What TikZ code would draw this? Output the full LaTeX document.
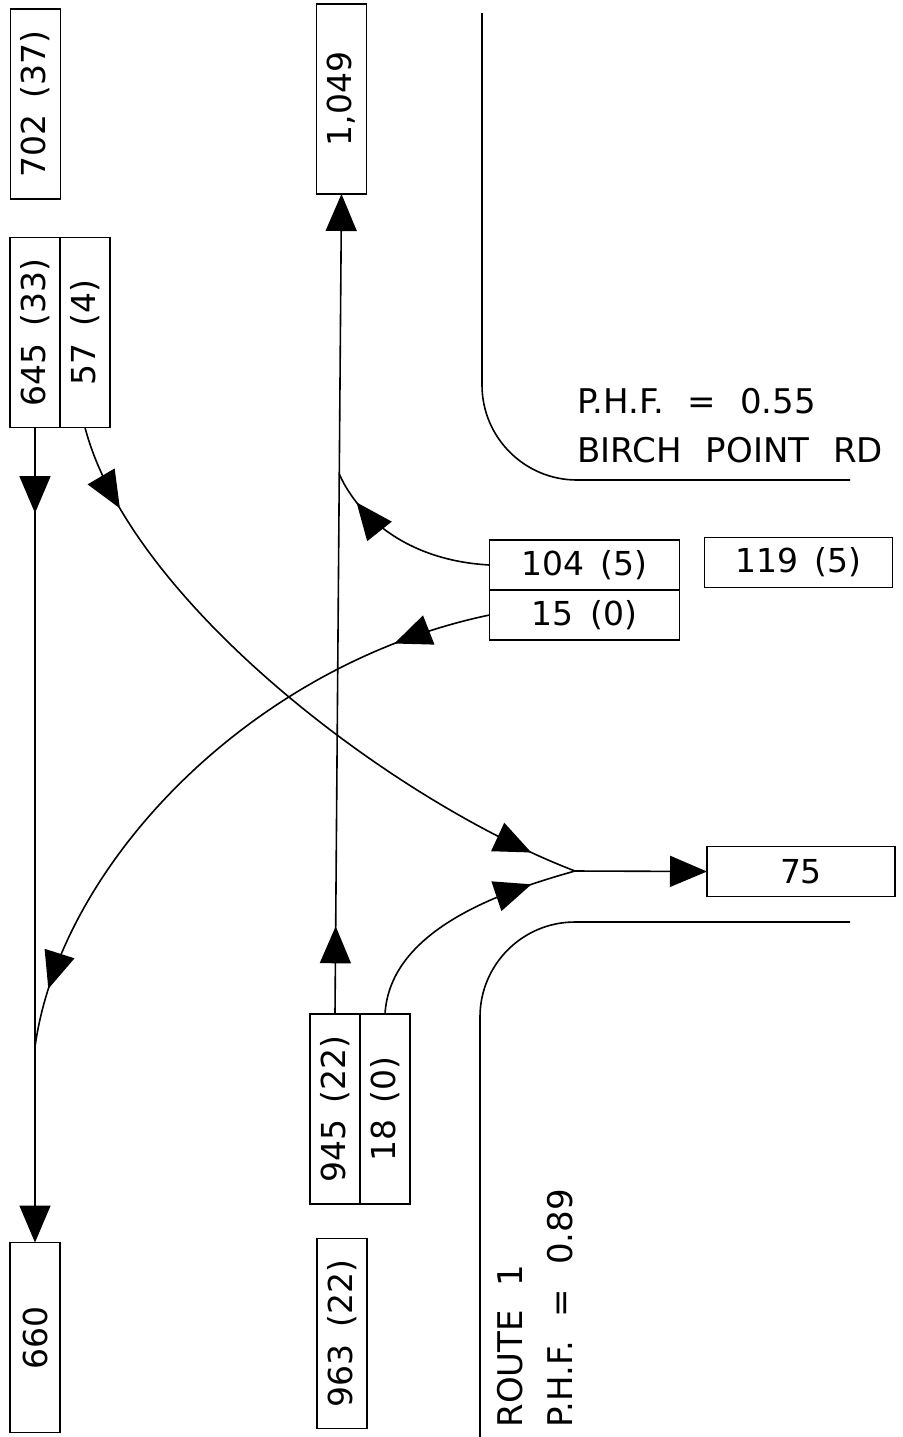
\documentclass[tikz,border=0pt]{standalone}
\usepackage{fontspec}
\setmainfont{DejaVu Sans}
\usepackage{graphicx}
\usetikzlibrary{arrows.meta,positioning,calc,decorations.markings}
\newcommand{\vtext}[1]{\rotatebox{90}{#1}}
\newcommand{\boxfont}{\fontsize{16.5}{20}\selectfont\spaceskip 0.5em plus 0pt\relax}
\newcommand{\roadfont}{\fontsize{17}{20}\selectfont\spaceskip 0.7em plus 0pt\relax}
\tikzset{
  flowtip/.tip={Triangle[length=18.5pt,width=15.5pt]},
  vbox/.style={draw,line width=0.8pt,minimum width=25pt,minimum height=95pt,
    inner sep=0pt,outer sep=0pt},
  hbox/.style={draw,line width=0.8pt,minimum width=95pt,minimum height=25pt,
    inner sep=0pt,outer sep=0pt},
  flow/.style={line width=0.8pt},
  arrowat/.style={postaction={decorate,decoration={markings,
    mark=at position #1 with {\arrow{flowtip}}}}},
  roadedge/.style={line width=0.8pt},
  roadlabel/.style={inner sep=0pt,font=\roadfont}
}

\begin{document}
\begin{tikzpicture}[x=0.5pt,y=-0.5pt,font=\boxfont]
  \useasboundingbox (0,0) rectangle (903,1437);
  % west leg
  \node[vbox] (n702) at (35.5,104) {\vtext{702 (37)}};
  \node[vbox] (n645) at (35,332.5) {\vtext{645 (33)}};
  \node[vbox,right=0pt of n645] (n57) {\vtext{57 (4)}};
  \node[vbox] (n660) at (35,1337.5) {\vtext{660}};
  % route 1 north and south
  \node[vbox] (n1049) at (341.5,99) {\vtext{1,049}};
  \node[vbox] (n945) at (335,1109) {\vtext{945 (22)}};
  \node[vbox,right=0pt of n945] (n18) {\vtext{18 (0)}};
  \node[vbox] (n963) at (342,1333.5) {\vtext{963 (22)}};
  % east leg
  \node[hbox] (n104) at (584.5,565) {104 (5)};
  \node[hbox,below=0pt of n104] (n15) {15 (0)};
  \node[hbox,minimum width=94pt] (n119) at (798.5,562.5) {119 (5)};
  \node[hbox,minimum width=94pt] (n75) at (801,871.5) {75};

  \coordinate (j1) at ($(n945.north)!0.6585!(n1049.south)$);
  \coordinate (j2) at ($(n645.south)!0.76!(n660.north)$);
  \coordinate (merge) at (575,871);

  \draw[flow,arrowat=0.105,-{flowtip}] (n645.south) -- (n660.north);
  \draw[flow,arrowat=0.107,-{flowtip}] (n945.north) -- (n1049.south);
  \draw[flow,arrowat=0.13,arrowat=0.93] (n57.south)
    .. controls (130,600) and (390,800) .. (merge);
  \draw[flow,arrowat=0.82] (n18.north) .. controls (390,930) and (500,892) .. (merge);
  \draw[flow,-{flowtip}] (merge) -- (n75.west);
  \draw[flow,arrowat=0.82] (n104.west) .. controls (400,560) and (355,510) .. (j1);
  \draw[flow,arrowat=0.15,arrowat=0.91] (n15.west)
    .. controls (250,665) and (60,865) .. (j2);

  % road edges
  \draw[roadedge,rounded corners=47.5pt] (482,13) |- (850,480);
  \draw[roadedge,rounded corners=47.5pt] (850,922) -| (480,1437);

  \node[roadlabel,anchor=base west] (phf55) at (577,413) {P.H.F. = 0.55};
  \node[roadlabel,anchor=base west] (birch) at (577,462) {BIRCH POINT RD};
  \node[roadlabel,rotate=90,anchor=base west] (route) at (522,1428) {ROUTE 1};
  \node[roadlabel,rotate=90,anchor=base west] (phf89) at (572,1428) {P.H.F. = 0.89};
\end{tikzpicture}
\end{document}
